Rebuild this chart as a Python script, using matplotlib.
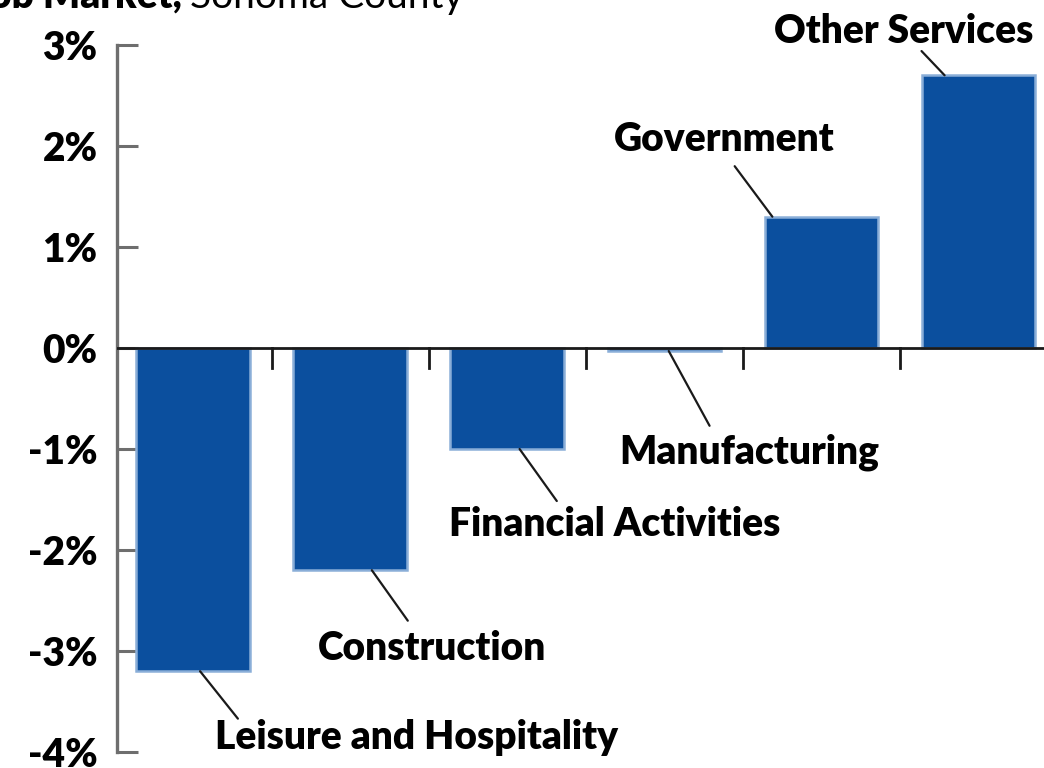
import matplotlib
matplotlib.use("Agg")
import matplotlib.pyplot as plt

categories = ["Leisure and Hospitality", "Construction", "Financial Activities",
              "Manufacturing", "Government", "Other Services"]
values = [-3.2, -2.2, -1.0, -0.03, 1.3, 2.7]
yticks = [-4, -3, -2, -1, 0, 1, 2, 3]
ytick_labels = ["-4%", "-3%", "-2%", "-1%", "0%", "1%", "2%", "3%"]

FONT = "Lato"
FS = 28
BAR = "#0b4f9e"
EDGE = "#8aaed8"

fig = plt.figure(figsize=(10.44, 7.68), dpi=100)
ax = fig.add_axes([117/1044, 16/768, 1 - 117/1044, (752-45)/768])

x = list(range(len(categories)))
ax.bar(x, values, width=0.72, color=BAR, edgecolor=EDGE, linewidth=1.8, zorder=2)

ax.set_xlim(-0.484, 5.42)
ax.set_ylim(-4, 3)

for s in ["top", "right", "bottom"]:
    ax.spines[s].set_visible(False)
ax.spines["left"].set_color("#6e6e6e")
ax.spines["left"].set_linewidth(2.4)

ax.set_yticks(yticks)
ax.set_yticklabels(ytick_labels, fontfamily=FONT, fontweight="heavy", fontsize=FS)
ax.tick_params(axis="y", direction="in", length=15, width=2.2, color="#6e6e6e", pad=14)
ax.set_xticks([])

# zero line and separators
ax.axhline(0, color="#1a1a1a", lw=2.0, zorder=3)
for b in [0.5, 1.5, 2.5, 3.5, 4.5]:
    ax.plot([b, b], [0, -0.2], color="#1a1a1a", lw=2.0, zorder=3, clip_on=False)

# labels with leader lines: (start dx from center, end point, text pos)
label_specs = [
    (0.045, (0.286, -3.67), (1.426, -3.97)),
    (0.139, (1.368, -2.70), (1.521, -3.09)),
    (0.08, (2.317, -1.515), (2.686, -1.86)),
    (0.03, (3.29, -0.77), (3.545, -1.14)),
    (-0.31, (3.45, 1.80), (3.386, 1.95)),
    (-0.213, (4.64, 2.94), (4.526, 3.02)),
]
for i, (cat, val, spec) in enumerate(zip(categories, values, label_specs)):
    dx, end, tpos = spec
    ax.annotate("", xy=(i + dx, val), xytext=end,
                arrowprops=dict(arrowstyle="-", color="#1a1a1a", lw=1.6,
                                shrinkA=0, shrinkB=0), annotation_clip=False)
    ax.text(tpos[0], tpos[1], cat, ha="center", va="baseline",
            fontfamily=FONT, fontweight="heavy", fontsize=FS, clip_on=False)

# clipped title at the very top
fig.text(182/1044, 1 - 8/768, "Job Market,", ha="right", va="baseline",
         fontfamily=FONT, fontweight="heavy", fontsize=FS)
fig.text(190/1044, 1 - 8/768, "Sonoma County", ha="left", va="baseline",
         fontfamily=FONT, fontsize=FS)

fig.savefig("out.png", dpi=100)
